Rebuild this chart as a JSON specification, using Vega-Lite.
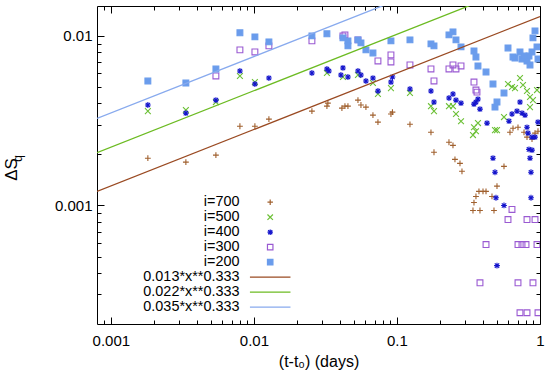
{
  "$schema": "https://vega.github.io/schema/vega-lite/v6.json",
  "width": 443,
  "height": 318,
  "autosize": {"type": "none"},
  "padding": {"left": 97, "top": 6, "right": 10, "bottom": 53},
  "background": "white",
  "config": {
    "font": "Liberation Sans",
    "view": {"stroke": "black", "strokeWidth": 1},
    "axis": {"grid": false, "domain": false, "labelColor": "black", "titleColor": "black", "tickColor": "black", "labelFlush": false, "labelOverlap": false, "labelBound": false}
  },
  "datasets": {
    "pts": [
      {"series":"i=700","t":0.001814,"dS":0.00190},{"series":"i=700","t":0.003345,"dS":0.00180},{"series":"i=700","t":0.005424,"dS":0.00198},{"series":"i=700","t":0.007983,"dS":0.00293},{"series":"i=700","t":0.01016,"dS":0.00293},{"series":"i=700","t":0.01273,"dS":0.00323},{"series":"i=700","t":0.02544,"dS":0.00360},{"series":"i=700","t":0.03239,"dS":0.00385},{"series":"i=700","t":0.0329,"dS":0.00401},{"series":"i=700","t":0.04123,"dS":0.00375},{"series":"i=700","t":0.04329,"dS":0.00385},{"series":"i=700","t":0.04543,"dS":0.00385},{"series":"i=700","t":0.05338,"dS":0.00418},{"series":"i=700","t":0.05601,"dS":0.00391},{"series":"i=700","t":0.06069,"dS":0.00380},{"series":"i=700","t":0.06795,"dS":0.00341},{"series":"i=700","t":0.07364,"dS":0.00310},{"series":"i=700","t":0.09078,"dS":0.00346},{"series":"i=700","t":0.0930,"dS":0.00355},{"series":"i=700","t":0.1233,"dS":0.00301},{"series":"i=700","t":0.1729,"dS":0.00270},{"series":"i=700","t":0.1815,"dS":0.00206},{"series":"i=700","t":0.2310,"dS":0.00236},{"series":"i=700","t":0.2464,"dS":0.00226},{"series":"i=700","t":0.2544,"dS":0.00187},{"series":"i=700","t":0.2758,"dS":0.00177},{"series":"i=700","t":0.2848,"dS":0.00159},{"series":"i=700","t":0.5601,"dS":0.00170},{"series":"i=700","t":0.5004,"dS":0.00130},{"series":"i=700","t":0.3744,"dS":0.00121},{"series":"i=700","t":0.3995,"dS":0.00121},{"series":"i=700","t":0.4194,"dS":0.00121},{"series":"i=700","t":0.3567,"dS":0.00113},{"series":"i=700","t":0.3455,"dS":0.00104},{"series":"i=700","t":0.3400,"dS":0.000934},{"series":"i=700","t":0.3805,"dS":0.000934},{"series":"i=700","t":0.4768,"dS":0.000934},{"series":"i=700","t":0.4617,"dS":0.00113},{"series":"i=700","t":0.6168,"dS":0.00270},{"series":"i=700","t":0.6475,"dS":0.00285},{"series":"i=700","t":0.7017,"dS":0.00289},{"series":"i=700","t":0.7730,"dS":0.00270},{"series":"i=700","t":0.8112,"dS":0.00253},{"series":"i=700","t":0.8793,"dS":0.00246},{"series":"i=700","t":0.9227,"dS":0.00267},{"series":"i=700","t":0.9683,"dS":0.00274},
      {"series":"i=500","t":0.001814,"dS":0.00360},{"series":"i=500","t":0.003345,"dS":0.00365},{"series":"i=500","t":0.005424,"dS":0.00407},{"series":"i=500","t":0.007983,"dS":0.00580},{"series":"i=500","t":0.01016,"dS":0.00534},{"series":"i=500","t":0.03239,"dS":0.00604},{"series":"i=500","t":0.04193,"dS":0.00572},{"series":"i=500","t":0.05338,"dS":0.00588},{"series":"i=500","t":0.06795,"dS":0.00527},{"series":"i=500","t":0.07364,"dS":0.00454},{"series":"i=500","t":0.09078,"dS":0.00492},{"series":"i=500","t":0.1233,"dS":0.00460},{"series":"i=500","t":0.1729,"dS":0.00385},{"series":"i=500","t":0.1815,"dS":0.00360},{"series":"i=500","t":0.2310,"dS":0.00385},{"series":"i=500","t":0.2464,"dS":0.00385},{"series":"i=500","t":0.2586,"dS":0.00346},{"series":"i=500","t":0.2804,"dS":0.00314},{"series":"i=500","t":0.3455,"dS":0.00289},{"series":"i=500","t":0.3567,"dS":0.00274},{"series":"i=500","t":0.3400,"dS":0.00260},{"series":"i=500","t":0.3684,"dS":0.00306},{"series":"i=500","t":0.4845,"dS":0.00278},{"series":"i=500","t":0.5004,"dS":0.00278},{"series":"i=500","t":0.5601,"dS":0.00332},{"series":"i=500","t":0.5974,"dS":0.00520},{"series":"i=500","t":0.6370,"dS":0.00499},{"series":"i=500","t":0.6686,"dS":0.00492},{"series":"i=500","t":0.7246,"dS":0.00564},{"series":"i=500","t":0.7606,"dS":0.00513},{"series":"i=500","t":0.8112,"dS":0.00473},{"series":"i=500","t":0.8513,"dS":0.00436},{"series":"i=500","t":0.8930,"dS":0.00418},{"series":"i=500","t":0.9528,"dS":0.00479},{"series":"i=500","t":0.8513,"dS":0.00380},
      {"series":"i=400","t":0.001814,"dS":0.00391},{"series":"i=400","t":0.003345,"dS":0.00350},{"series":"i=400","t":0.005424,"dS":0.00418},{"series":"i=400","t":0.007983,"dS":0.00621},{"series":"i=400","t":0.01016,"dS":0.00520},{"series":"i=400","t":0.01273,"dS":0.00564},{"series":"i=400","t":0.02544,"dS":0.00604},{"series":"i=400","t":0.03239,"dS":0.00638},{"series":"i=400","t":0.03345,"dS":0.00621},{"series":"i=400","t":0.04193,"dS":0.00647},{"series":"i=400","t":0.04058,"dS":0.00588},{"series":"i=400","t":0.04543,"dS":0.00572},{"series":"i=400","t":0.05338,"dS":0.00621},{"series":"i=400","t":0.05601,"dS":0.00588},{"series":"i=400","t":0.06069,"dS":0.00542},{"series":"i=400","t":0.06795,"dS":0.00564},{"series":"i=400","t":0.07364,"dS":0.00473},{"series":"i=400","t":0.09078,"dS":0.00534},{"series":"i=400","t":0.0930,"dS":0.00572},{"series":"i=400","t":0.1233,"dS":0.00486},{"series":"i=400","t":0.1729,"dS":0.00473},{"series":"i=400","t":0.1815,"dS":0.00407},{"series":"i=400","t":0.2310,"dS":0.00430},{"series":"i=400","t":0.2464,"dS":0.00454},{"series":"i=400","t":0.2586,"dS":0.00418},{"series":"i=400","t":0.2804,"dS":0.00401},{"series":"i=400","t":0.3455,"dS":0.00396},{"series":"i=400","t":0.3567,"dS":0.00407},{"series":"i=400","t":0.3684,"dS":0.00424},{"series":"i=400","t":0.3805,"dS":0.00370},{"series":"i=400","t":0.4262,"dS":0.00306},{"series":"i=400","t":0.6070,"dS":0.00314},{"series":"i=400","t":0.6906,"dS":0.00360},{"series":"i=400","t":0.7246,"dS":0.00407},{"series":"i=400","t":0.7484,"dS":0.00350},{"series":"i=400","t":0.7854,"dS":0.00341},{"series":"i=400","t":0.8112,"dS":0.00289},{"series":"i=400","t":0.8244,"dS":0.00267},{"series":"i=400","t":0.8793,"dS":0.00253},{"series":"i=400","t":0.9227,"dS":0.00253},{"series":"i=400","t":0.8376,"dS":0.00214},{"series":"i=400","t":0.8793,"dS":0.00212},{"series":"i=400","t":0.8513,"dS":0.00190},{"series":"i=400","t":0.4692,"dS":0.00190},{"series":"i=400","t":0.4845,"dS":0.00157},{"series":"i=400","t":0.8651,"dS":0.00157},{"series":"i=400","t":0.4924,"dS":0.00111},{"series":"i=400","t":0.5601,"dS":0.00100},{"series":"i=400","t":0.8651,"dS":0.00111},{"series":"i=400","t":0.5004,"dS":0.000442},{"series":"i=400","t":0.9683,"dS":0.00310},{"series":"i=400","t":0.6370,"dS":0.00346},
      {"series":"i=300","t":0.005424,"dS":0.00580},{"series":"i=300","t":0.007983,"dS":0.00827},{"series":"i=300","t":0.01016,"dS":0.00804},{"series":"i=300","t":0.01273,"dS":0.00873},{"series":"i=300","t":0.02544,"dS":0.00934},{"series":"i=300","t":0.04193,"dS":0.01000},{"series":"i=300","t":0.04329,"dS":0.01014},{"series":"i=300","t":0.05338,"dS":0.00947},{"series":"i=300","t":0.07364,"dS":0.00711},{"series":"i=300","t":0.09078,"dS":0.00772},{"series":"i=300","t":0.09078,"dS":0.00702},{"series":"i=300","t":0.1233,"dS":0.00674},{"series":"i=300","t":0.1729,"dS":0.00638},{"series":"i=300","t":0.1815,"dS":0.00542},{"series":"i=300","t":0.2310,"dS":0.00638},{"series":"i=300","t":0.2464,"dS":0.00674},{"series":"i=300","t":0.2586,"dS":0.00638},{"series":"i=300","t":0.2804,"dS":0.00665},{"series":"i=300","t":0.3455,"dS":0.00534},{"series":"i=300","t":0.3567,"dS":0.00479},{"series":"i=300","t":0.3626,"dS":0.00466},{"series":"i=300","t":0.6370,"dS":0.000947},{"series":"i=300","t":0.5974,"dS":0.000826},{"series":"i=300","t":0.8112,"dS":0.000826},{"series":"i=300","t":0.9227,"dS":0.000826},{"series":"i=300","t":0.4194,"dS":0.000588},{"series":"i=300","t":0.7017,"dS":0.000588},{"series":"i=300","t":0.7484,"dS":0.000588},{"series":"i=300","t":0.7983,"dS":0.000588},{"series":"i=300","t":0.9528,"dS":0.000588},{"series":"i=300","t":0.3805,"dS":0.000350},{"series":"i=300","t":0.7017,"dS":0.000350},{"series":"i=300","t":0.8930,"dS":0.000350},{"series":"i=300","t":0.7246,"dS":0.000233},{"series":"i=300","t":0.8112,"dS":0.000233},{"series":"i=300","t":0.9683,"dS":0.000233},
      {"series":"i=200","t":0.001814,"dS":0.00542},{"series":"i=200","t":0.003345,"dS":0.00527},{"series":"i=200","t":0.005424,"dS":0.00638},{"series":"i=200","t":0.007983,"dS":0.01042},{"series":"i=200","t":0.01016,"dS":0.00986},{"series":"i=200","t":0.01273,"dS":0.00922},{"series":"i=200","t":0.02544,"dS":0.01000},{"series":"i=200","t":0.03239,"dS":0.01028},{"series":"i=200","t":0.04193,"dS":0.00973},{"series":"i=200","t":0.04543,"dS":0.00934},{"series":"i=200","t":0.04543,"dS":0.00873},{"series":"i=200","t":0.05338,"dS":0.00947},{"series":"i=200","t":0.05601,"dS":0.00909},{"series":"i=200","t":0.06069,"dS":0.00827},{"series":"i=200","t":0.06795,"dS":0.00793},{"series":"i=200","t":0.09078,"dS":0.00934},{"series":"i=200","t":0.1233,"dS":0.00947},{"series":"i=200","t":0.1729,"dS":0.00897},{"series":"i=200","t":0.1815,"dS":0.00873},{"series":"i=200","t":0.2310,"dS":0.01014},{"series":"i=200","t":0.2464,"dS":0.01056},{"series":"i=200","t":0.2586,"dS":0.00947},{"series":"i=200","t":0.2804,"dS":0.00861},{"series":"i=200","t":0.3455,"dS":0.00815},{"series":"i=200","t":0.3567,"dS":0.00751},{"series":"i=200","t":0.3684,"dS":0.00665},{"series":"i=200","t":0.4194,"dS":0.00612},{"series":"i=200","t":0.4692,"dS":0.00520},{"series":"i=200","t":0.5601,"dS":0.00460},{"series":"i=200","t":0.5004,"dS":0.00407},{"series":"i=200","t":0.4845,"dS":0.00380},{"series":"i=200","t":0.5974,"dS":0.00849},{"series":"i=200","t":0.6686,"dS":0.00741},{"series":"i=200","t":0.7246,"dS":0.00804},{"series":"i=200","t":0.7484,"dS":0.00731},{"series":"i=200","t":0.8112,"dS":0.00711},{"series":"i=200","t":0.8513,"dS":0.00674},{"series":"i=200","t":0.8793,"dS":0.00804},{"series":"i=200","t":0.8930,"dS":0.00973},{"series":"i=200","t":0.9227,"dS":0.01070},{"series":"i=200","t":0.9528,"dS":0.00861},{"series":"i=200","t":0.8376,"dS":0.00761},{"series":"i=200","t":0.6475,"dS":0.00751},{"series":"i=200","t":0.9683,"dS":0.00731},{"series":"i=200","t":0.7730,"dS":0.00761}
    ],
    "fits": [
      {"series":"0.013*x**0.333","t":0.0008,"dS":0.0012098},{"series":"0.013*x**0.333","t":1,"dS":0.013},
      {"series":"0.022*x**0.333","t":0.0008,"dS":0.0020473},{"series":"0.022*x**0.333","t":1,"dS":0.022},
      {"series":"0.035*x**0.333","t":0.0008,"dS":0.003257},{"series":"0.035*x**0.333","t":1,"dS":0.035}
    ]
  },
  "layer": [
    {
      "data": {"name": "pts"},
      "mark": {"type": "point", "clip": true, "size": 34, "strokeWidth": 1.1, "opacity": 1},
      "encoding": {
        "x": {"field": "t", "type": "quantitative", "scale": {"type": "log", "domain": [0.0008, 1], "nice": false},
          "axis": {"orient": "bottom", "title": "(t-t₀) (days)", "titlePadding": 2, "labelPadding": 16,
            "labelFontSize": 15, "titleFontSize": 16, "titleFontWeight": "normal", "labelFont": "Liberation Sans", "titleFont": "Liberation Sans",
            "values": [0.0009,0.001,0.002,0.003,0.004,0.005,0.006,0.007,0.008,0.009,0.01,0.02,0.03,0.04,0.05,0.06,0.07,0.08,0.09,0.1,0.2,0.3,0.4,0.5,0.6,0.7,0.8,0.9,1],
            "format": "~g",
            "labelExpr": "indexof([0.001,0.01,0.1,1], datum.value) >= 0 ? datum.label : ''",
            "tickSize": {"condition": {"test": "indexof([0.001,0.01,0.1,1], datum.value) >= 0", "value": -7}, "value": -4}}},
        "y": {"field": "dS", "type": "quantitative", "scale": {"type": "log", "domain": [0.0002, 0.015], "nice": false},
          "axis": {"orient": "left", "title": "ΔS", "titleX": -77, "titleY": 163, "labelPadding": 12,
            "labelFontSize": 15, "titleFontSize": 17, "titleFontWeight": "normal", "labelFont": "Liberation Sans", "titleFont": "Liberation Sans",
            "values": [0.0003,0.0004,0.0005,0.0006,0.0007,0.0008,0.0009,0.001,0.002,0.003,0.004,0.005,0.006,0.007,0.008,0.009,0.01],
            "format": "~g",
            "labelExpr": "indexof([0.001,0.01], datum.value) >= 0 ? datum.label : ''",
            "tickSize": {"condition": {"test": "indexof([0.001,0.01], datum.value) >= 0", "value": -7}, "value": -4}}},
        "stroke": {"field": "series", "type": "nominal",
          "scale": {"domain": ["i=700","i=500","i=400","i=300","i=200","0.013*x**0.333","0.022*x**0.333","0.035*x**0.333"],
                    "range": ["#a0602e","#6cc036","#1414cc","#9a5ad2","#6a9cec","#9a4a22","#6cbb22","#88aaee"]},
          "legend": {"orient": "none", "legendX": 166, "legendY": 189, "title": null, "labelAlign": "right", "labelOffset": -38, "labelFontSize": 14.4, "labelFont": "Liberation Sans", "labelColor": "black", "symbolSize": 30, "symbolStrokeWidth": 1.2, "rowPadding": 0}},
        "fill": {"field": "series", "type": "nominal",
          "scale": {"domain": ["i=700","i=500","i=400","i=300","i=200","0.013*x**0.333","0.022*x**0.333","0.035*x**0.333"],
                    "range": ["transparent","transparent","transparent","transparent","#6a9cec","transparent","transparent","transparent"]},
          "legend": {"orient": "none", "legendX": 166, "legendY": 189, "title": null, "labelAlign": "right", "labelOffset": -38, "labelFontSize": 14.4, "labelFont": "Liberation Sans", "labelColor": "black", "symbolSize": 30, "symbolStrokeWidth": 1.2, "rowPadding": 0}},
        "shape": {"field": "series", "type": "nominal",
          "scale": {"domain": ["i=700","i=500","i=400","i=300","i=200","0.013*x**0.333","0.022*x**0.333","0.035*x**0.333"],
                    "range": ["M-1,0L1,0M0,-1L0,1","M-1,-1L1,1M-1,1L1,-1","M-1,0L1,0M0,-1L0,1M-0.75,-0.75L0.75,0.75M-0.75,0.75L0.75,-0.75","square","square","M-7.4,0L7.4,0","M-7.4,0L7.4,0","M-7.4,0L7.4,0"]},
          "legend": {"orient": "none", "legendX": 166, "legendY": 189, "title": null, "labelAlign": "right", "labelOffset": -38, "labelFontSize": 14.4, "labelFont": "Liberation Sans", "labelColor": "black", "symbolSize": 30, "symbolStrokeWidth": 1.2, "rowPadding": 0}}
      }
    },
    {
      "data": {"name": "fits"},
      "mark": {"type": "line", "clip": true, "strokeWidth": 1.3},
      "encoding": {
        "x": {"field": "t", "type": "quantitative", "scale": {"type": "log", "domain": [0.0008, 1], "nice": false},
          "axis": {"orient": "top", "title": null, "labels": false,
            "values": [0.0009,0.001,0.002,0.003,0.004,0.005,0.006,0.007,0.008,0.009,0.01,0.02,0.03,0.04,0.05,0.06,0.07,0.08,0.09,0.1,0.2,0.3,0.4,0.5,0.6,0.7,0.8,0.9,1],
            "tickSize": {"condition": {"test": "indexof([0.001,0.01,0.1,1], datum.value) >= 0", "value": -7}, "value": -4}}},
        "y": {"field": "dS", "type": "quantitative", "scale": {"type": "log", "domain": [0.0002, 0.015], "nice": false},
          "axis": {"orient": "right", "title": null, "labels": false,
            "values": [0.0003,0.0004,0.0005,0.0006,0.0007,0.0008,0.0009,0.001,0.002,0.003,0.004,0.005,0.006,0.007,0.008,0.009,0.01],
            "tickSize": {"condition": {"test": "indexof([0.001,0.01], datum.value) >= 0", "value": -7}, "value": -4}}},
        "stroke": {"field": "series", "type": "nominal",
          "scale": {"domain": ["i=700","i=500","i=400","i=300","i=200","0.013*x**0.333","0.022*x**0.333","0.035*x**0.333"],
                    "range": ["#a0602e","#6cc036","#1414cc","#9a5ad2","#6a9cec","#9a4a22","#6cbb22","#88aaee"]}}
      }
    },
    {
      "data": {"name": "fits"},
      "mark": {"type": "line", "clip": true, "strokeOpacity": 0},
      "encoding": {
        "x": {"field": "t", "type": "quantitative", "scale": {"type": "log", "domain": [0.0008, 1], "nice": false}, "axis": null},
        "y": {"field": "dS", "type": "quantitative", "scale": {"type": "log", "domain": [0.0002, 0.015], "nice": false},
          "axis": {"orient": "left", "title": "q", "titleX": -73, "titleY": 152, "titleFontSize": 12, "titleFontWeight": "normal", "titleFont": "Liberation Sans",
            "labels": false, "ticks": false, "domain": false}},
        "detail": {"field": "series", "type": "nominal"}
      }
    }
  ],
  "resolve": {"axis": {"x": "independent", "y": "independent"}}
}
